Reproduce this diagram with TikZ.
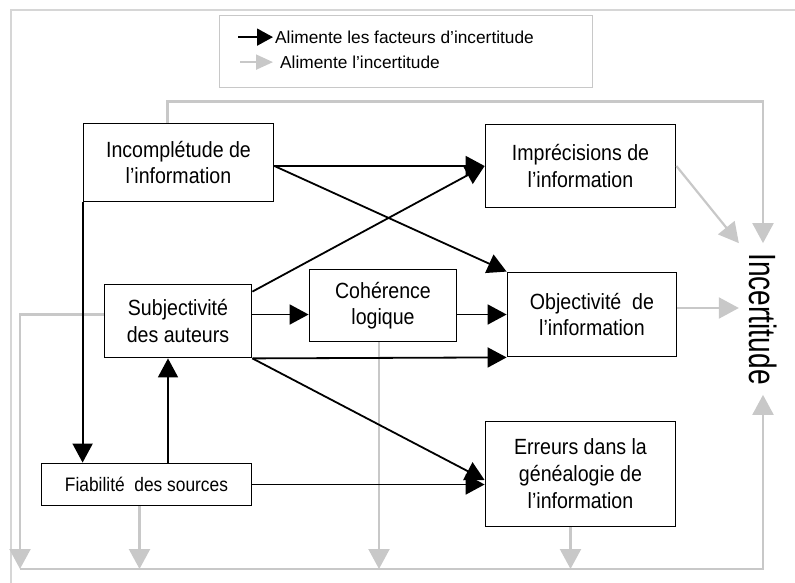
\documentclass[tikz,border=0pt]{standalone}
\usepackage{fontspec}
\setmainfont{Liberation Sans}
\newfontfamily\boxfont[FakeStretch=0.89]{Liberation Sans}
\newfontfamily\incfont[FakeStretch=0.74]{Liberation Sans}
\usetikzlibrary{arrows.meta}
\definecolor{flowgray}{RGB}{200,200,200}
\definecolor{framegray}{RGB}{214,214,214}
\tikzset{
  factbox/.style={draw=black, line width=1.8pt, fill=white, align=center, inner sep=0pt,
    font=\boxfont\fontsize{22}{26.3}\selectfont},
  blackarr/.style={draw=black, line width=1.8pt, -{Triangle[length=19pt,width=20pt]}},
  grayarr/.style={draw=flowgray, line width=2.2pt, -{Triangle[length=20pt,width=21pt]}},
  legtext/.style={anchor=base west, inner sep=0pt, font=\fontsize{17.3}{20}\selectfont}
}
\begin{document}
\begin{tikzpicture}[x=1pt,y=-1pt]
        \useasboundingbox (0,0) rectangle (795,583);
        \draw[framegray, line width=1.5pt] (11,583) -- (11,10) -- (795,10);%cadre

        % legende
        \node[draw=flowgray, line width=1.5pt, minimum width=373pt, minimum height=72pt, inner sep=0pt] (legend) at (406,51.5) {};
        \node[legtext] (legblack) at (275,43.3) {Alimente les facteurs d’incertitude};
        \node[legtext] (leggray) at (280,68.3) {Alimente l’incertitude};
        \draw[blackarr, -{Triangle[length=16pt,width=17pt]}] ([xshift=-37pt]legblack.west) -- ([xshift=-2pt]legblack.west);
        \draw[grayarr, line width=2pt, -{Triangle[length=17pt,width=15pt]}] ([xshift=-40pt]leggray.west) -- ([xshift=-7pt]leggray.west);

        % facteurs
        \node[factbox, minimum width=190pt, minimum height=78pt] (incomp) at (178.5,162.5) {Incomplétude de\\l’information};
        \node[factbox, minimum width=190pt, minimum height=83pt] (impr) at (580.5,166) {Imprécisions de\\l’information};
        \node[factbox, minimum width=147pt, minimum height=73pt] (subj) at (178,321) {Subjectivité\\des auteurs};
        \node[factbox, minimum width=147pt, minimum height=72pt] (coher) at (383,305.5) {Cohérence\\logique};
        \node[factbox, minimum width=169pt, minimum height=84pt] (objec) at (592,314.5) {Objectivité\ \ de\\l’information};
        \node[factbox, minimum width=210pt, minimum height=42pt, font=\boxfont\fontsize{19.5}{24}\selectfont] (fiab) at (146.5,484.5) {Fiabilité\ \ des sources};
        \node[factbox, minimum width=190pt, minimum height=105pt, font=\boxfont\fontsize{22}{27}\selectfont] (erreur) at (580.5,474) {Erreurs dans la\\généalogie de\\l’information};
        \node[rotate=-90, inner sep=10pt, font=\incfont\fontsize{38}{40}\selectfont] (inc) at (763,319) {Incertitude};
        \coordinate (bl) at (20,569);

        % alimente l'incertitude
        \draw[grayarr] ([xshift=-11pt]incomp.north) -- ++(0,-21) -| (inc.west);
        \draw[grayarr] (impr.east) -- (inc.south west);
        \draw[grayarr] ([yshift=6.5pt]objec.east) -- ([yshift=6.5pt]objec.east -| inc.south);
        \draw[grayarr] (subj.west |- objec.west) -| (bl);
        \draw[grayarr] ([xshift=-7pt]fiab.south) -- ([xshift=-7pt]fiab.south |- bl);
        \draw[grayarr] ([xshift=-4pt]coher.south) -- ([xshift=-4pt]coher.south |- bl);
        \draw[grayarr] ([xshift=-10pt]erreur.south) -- ([xshift=-10pt]erreur.south |- bl);
        \draw[grayarr] (bl) -| (inc.east);

        % alimente les facteurs
        \draw[blackarr] (incomp.east |- impr.west) -- (impr.west);
        \draw[blackarr] (incomp.east |- impr.west) -- (objec.north west);
        \draw[blackarr] (incomp.south west) -- (incomp.south west |- fiab.north);
        \draw[blackarr] ([xshift=-10pt]subj.south |- fiab.north) -- ([xshift=-10pt]subj.south);
        \draw[blackarr] ([yshift=-8pt]subj.north east) -- (impr.west);
        \draw[blackarr] (subj.east |- objec.west) -- (coher.west |- objec.west);
        \draw[blackarr] (coher.east |- objec.west) -- (objec.west);
        \draw[blackarr] (subj.south east) -- (objec.south west);
        \draw[blackarr] (subj.south east) -- ([yshift=-6pt]erreur.west);
        \draw[blackarr] (fiab.east) -- (erreur.west |- fiab.east);
\end{tikzpicture}
\end{document}
